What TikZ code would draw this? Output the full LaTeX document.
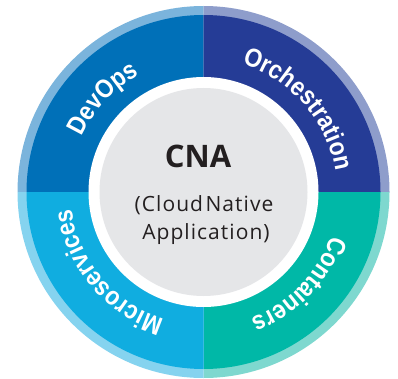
\documentclass[tikz,border=0pt]{standalone}
\usepackage{fontspec}
\setmainfont{Open Sans}
\newfontfamily\ringfont[FakeStretch=0.88]{Liberation Sans}
\usetikzlibrary{decorations.text}
\definecolor{devD}{HTML}{0070B8}
\definecolor{devL}{HTML}{7BB4DC}
\definecolor{orcD}{HTML}{253C96}
\definecolor{orcL}{HTML}{8E9DCB}
\definecolor{micD}{HTML}{10ADE0}
\definecolor{micL}{HTML}{85D3EF}
\definecolor{conD}{HTML}{00B8A7}
\definecolor{conL}{HTML}{7ED8CF}
\definecolor{hubgray}{HTML}{E5E6E8}
\definecolor{inkc}{HTML}{231F20}
\tikzset{
  ringlabel/.style={decorate, decoration={text along path, text align=center, text color=white,
    text={|\ringfont\bfseries\fontsize{26}{26}\selectfont|#1}}},
  hubtext/.style={anchor=base, text=inkc, inner sep=0pt}
}
\begin{document}
\begin{tikzpicture}[x=1pt,y=1pt]
\useasboundingbox (0,0) rectangle (398,378);
\coordinate (c) at (203.5,186);
\foreach \a/\lc/\dc in {90/devL/devD, 0/orcL/orcD, 270/conL/conD, 180/micL/micD}{
  \fill[\lc] (c) -- ++(\a:186) arc[start angle=\a, delta angle=90, radius=186] -- cycle;
  \fill[\dc] (c) -- ++(\a:177) arc[start angle=\a, delta angle=90, radius=177] -- cycle;
}
\fill[white] (c) circle[radius=115];
\node[circle, fill=hubgray, minimum size=208pt, inner sep=0pt] (hub) at (c) {};
\path[shift={(203.5,186)}, ringlabel=DevOps] (177:133.5) arc[start angle=177, end angle=97, radius=133.5];
\path[shift={(203.5,186)}, ringlabel=Orchestration] (81:133.5) arc[start angle=81, end angle=1, radius=133.5];
\path[shift={(203.5,186)}, ringlabel=Containers] (-4:135) arc[start angle=-4, end angle=-84, radius=135];
\path[shift={(203.5,186)}, ringlabel=Microservices] (-100:133) arc[start angle=-100, end angle=-180, radius=133];
\node[hubtext, font=\bfseries\fontsize{31}{31}\selectfont] (cna) at (198,211) {CNA};
\node[hubtext, font=\fontsize{21}{21}\selectfont\addfontfeature{LetterSpace=5}] (l1) at (204,167) {(Cloud\hspace{2.5pt}Native};
\node[hubtext, font=\fontsize{21}{21}\selectfont\addfontfeature{LetterSpace=5}] (l2) at (206,139) {Application)};
\end{tikzpicture}
\end{document}
